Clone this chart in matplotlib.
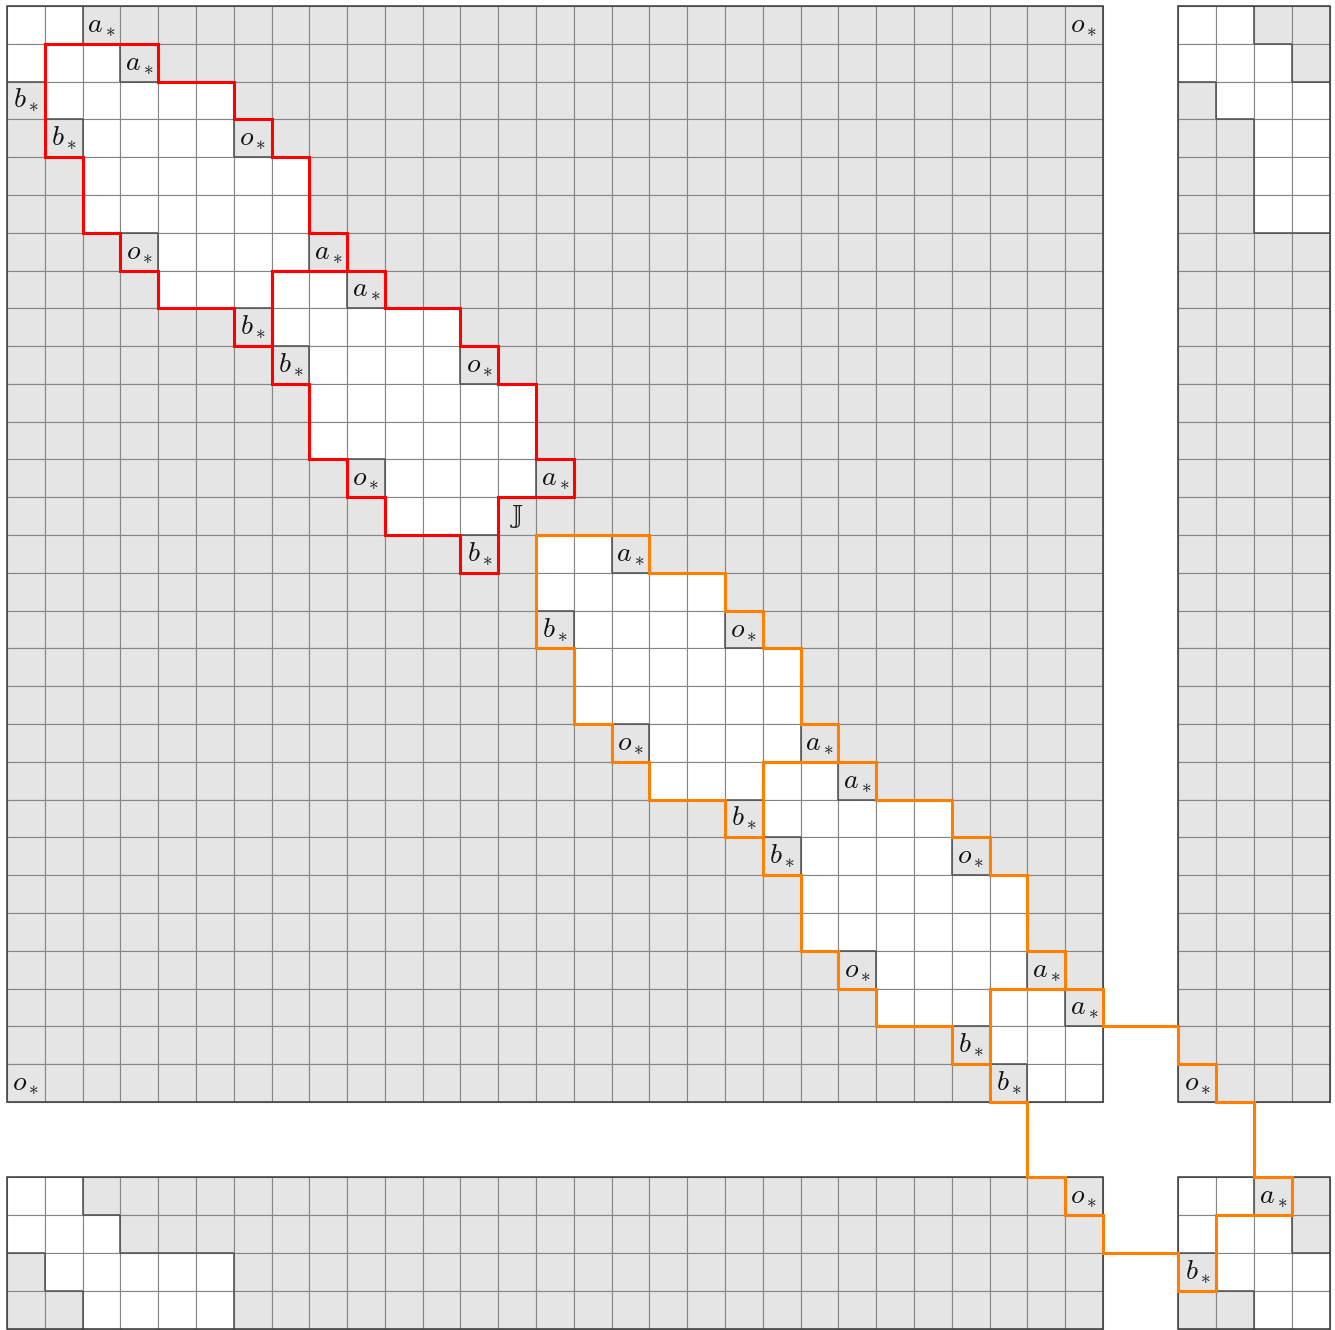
import matplotlib
matplotlib.use("Agg")
import matplotlib.pyplot as plt
import matplotlib.patches as patches
from matplotlib.collections import LineCollection

plt.rcParams['mathtext.fontset'] = 'cm'

# the board wraps around with this period; 29 columns/rows drawn + 2 left blank
PERIOD = 31
BLOCKS = [(0, 29), (31, 35)]          # visible row / column ranges

# one tile: [left, right) column range per row, relative to its top-left corner
TILE_ROWS = [(0, 3), (0, 5), (0, 6), (1, 7), (1, 7), (2, 8), (3, 6), (5, 6)]
# marked (grey) cells inside a tile: (row, col, letter)
TILE_MARKS = [(0, 2, 'a'), (2, 0, 'b'), (2, 5, 'o'),
              (5, 2, 'o'), (5, 7, 'a'), (7, 5, 'b')]

TILE_CORNERS = [1, 7, 14, 20, 26]      # tiles sit on the diagonal
TILE_COLORS = ['#ff0000', '#ff0000', '#ff8000', '#ff8000', '#ff8000']
J_CELL = (13, 13)

GREY = '#e5e5e5'
GRID = '#858585'
DARK = '#505050'

# white / marked cells modulo the period
white = set()
marks = set()
for o in TILE_CORNERS:
    for i, (l, r) in enumerate(TILE_ROWS):
        for j in range(l, r):
            white.add(((o + i) % PERIOD, (o + j) % PERIOD))
    for i, j, t in TILE_MARKS:
        marks.add(((o + i) % PERIOD, (o + j) % PERIOD))
white -= marks

vis = [k for a, b in BLOCKS for k in range(a, b)]
vis_set = set(vis)


def is_white(r, c):
    return (r % PERIOD, c % PERIOD) in white


S = 37.79
fig = plt.figure(figsize=(13.35, 13.30), dpi=100)
ax = fig.add_axes([0, 0, 1, 1])
ax.set_xlim(-7 / S, (1335 - 7) / S)
ax.set_ylim((1330 - 6) / S, -6 / S)
ax.axis('off')

# cells
for r in vis:
    for c in vis:
        fc = 'white' if is_white(r, c) else GREY
        ax.add_patch(patches.Rectangle((c, r), 1, 1, facecolor=fc,
                                       edgecolor=GRID, lw=0.8, zorder=1))

# darker edges where white meets grey
segs = []
for r in vis:
    for c in vis:
        if c + 1 in vis_set and is_white(r, c) != is_white(r, c + 1):
            segs.append([(c + 1, r), (c + 1, r + 1)])
        if r + 1 in vis_set and is_white(r, c) != is_white(r + 1, c):
            segs.append([(c, r + 1), (c + 1, r + 1)])
ax.add_collection(LineCollection(segs, colors=DARK, lw=1.1, zorder=2))

# block frames
for ra, rb in BLOCKS:
    for ca, cb in BLOCKS:
        ax.add_patch(patches.Rectangle((ca, ra), cb - ca, rb - ra, fill=False,
                                       edgecolor='#3a3a3a', lw=1.1, zorder=3))

# tile outlines
for o, col in zip(TILE_CORNERS, TILE_COLORS):
    n = len(TILE_ROWS)
    pts = [(o + TILE_ROWS[0][0], o)]
    for i, (l, r) in enumerate(TILE_ROWS):
        pts += [(o + r, o + i), (o + r, o + i + 1)]
    for i in range(n - 1, -1, -1):
        l = TILE_ROWS[i][0]
        pts += [(o + l, o + i + 1), (o + l, o + i)]
    xs, ys = zip(*pts)
    ax.plot(xs, ys, color=col, lw=2.2, solid_joinstyle='miter',
            solid_capstyle='projecting', zorder=4)

# labels
done = set()
for o in TILE_CORNERS:
    for i, j, t in TILE_MARKS:
        r, c = o + i, o + j
        places = []
        if r in vis_set and c in vis_set:
            places.append((r, c))
        if r % PERIOD < 29 and c % PERIOD < 29:
            places.append((r % PERIOD, c % PERIOD))
        for pr, pc in places:
            if (pr, pc) in done:
                continue
            done.add((pr, pc))
            ax.text(pc + 0.5, pr + 0.5, r'$%s_*$' % t, ha='center',
                    va='center', fontsize=20, color='#111111', zorder=5)

ax.text(J_CELL[1] + 0.5, J_CELL[0] + 0.5, '\U0001D541', ha='center',
        va='center', fontsize=17, family='DejaVu Serif', color='#222222',
        zorder=5)

fig.savefig('out.png', dpi=100)
